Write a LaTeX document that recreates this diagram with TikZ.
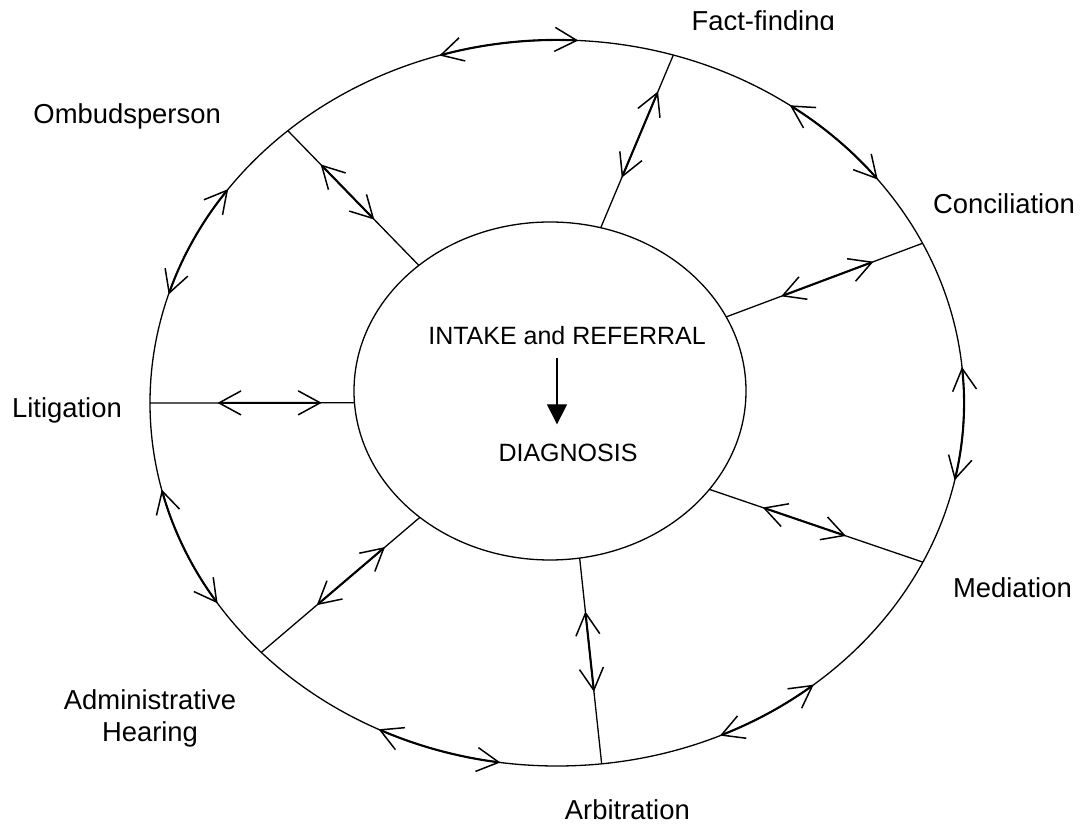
\documentclass[tikz,border=0pt]{standalone}
\usepackage{fontspec}
\setmainfont{Liberation Sans}
\usetikzlibrary{arrows.meta,calc,shapes.geometric}
\begin{document}
\begin{tikzpicture}[x=1pt,y=1pt,
  base/.style={line width=1.3pt},
  barb/.tip={Straight Barb[length=22pt,width=24pt,line width=1.5pt]},
  dbl/.style={line width=2.1pt, barb-barb},
  lbl/.style={font=\fontsize{27.4}{32}\selectfont, inner sep=0pt},
  ctr/.style={font=\fontsize{25}{30}\selectfont, inner sep=0pt}]
\useasboundingbox (0,0) rectangle (1081,825);
\coordinate (C) at (557,422);
\coordinate (I) at (550,434);
\node[base, draw, ellipse, minimum width=814pt, minimum height=726pt, inner sep=0pt] (outer) at (C) {};
\node[base, draw, ellipse, minimum width=392pt, minimum height=338pt, inner sep=0pt] (inner) at (I) {};
% spokes
\foreach \n/\ta/\tb/\fa/\fb in {F/75/73.4/0.29/0.79, Cn/26/26.1/0.28/0.75, M/-35.6/-26/0.25/0.64, Ar/-81.3/-83.7/0.26/0.65, Ad/-131.6/-136.6/0.22/0.65, L/184/180/0.16/0.67, O/132/131.4/0.34/0.75}{
  \coordinate (i\n) at ($(I)+(\ta:196 and 169)$);
  \coordinate (o\n) at ($(C)+(\tb:407 and 363)$);
  \draw[base] (i\n) -- (o\n);
  \draw[dbl] ($(i\n)!\fa!(o\n)$) -- ($(i\n)!\fb!(o\n)$);
}
% arcs on the outer ring
\foreach \sa/\ea in {106.8/87, 55.1/38, 5.7/-12.3, -50.9/-66.4, -98/-116, -146.5/-166.2, 162.6/143.9}{
  \draw[dbl] ($(C)+(\sa:407 and 363)$) arc[start angle=\sa, end angle=\ea, x radius=407, y radius=363];
}
% labels
\begin{scope}
  \clip (600,795) rectangle (900,825);
  \node[lbl, anchor=base east] (ff) at (835,794) {Fact-finding};
\end{scope}
\node[lbl, anchor=base east] (om) at (221,701) {Ombudsperson};
\node[lbl, anchor=base east] (co) at (1075,611) {Conciliation};
\node[lbl, anchor=base east] (li) at (122,407) {Litigation};
\node[lbl, anchor=base east] (me) at (1072,228) {Mediation};
\node[lbl, anchor=base, align=center, font=\fontsize{27.4}{32}\selectfont] (ad) at (150,84) {Administrative\\Hearing};
\node[lbl, anchor=base east] (ar) at (690,6) {Arbitration};
\node[ctr, anchor=base] (intake) at (567,480) {INTAKE and REFERRAL};
\node[ctr, anchor=base] (diag) at (568,363) {DIAGNOSIS};
\draw[base, -{Triangle[length=20pt,width=20pt]}] ([xshift=-10pt,yshift=-13pt]intake.south) -- ([xshift=-11pt,yshift=20pt]diag.north);
\end{tikzpicture}
\end{document}
